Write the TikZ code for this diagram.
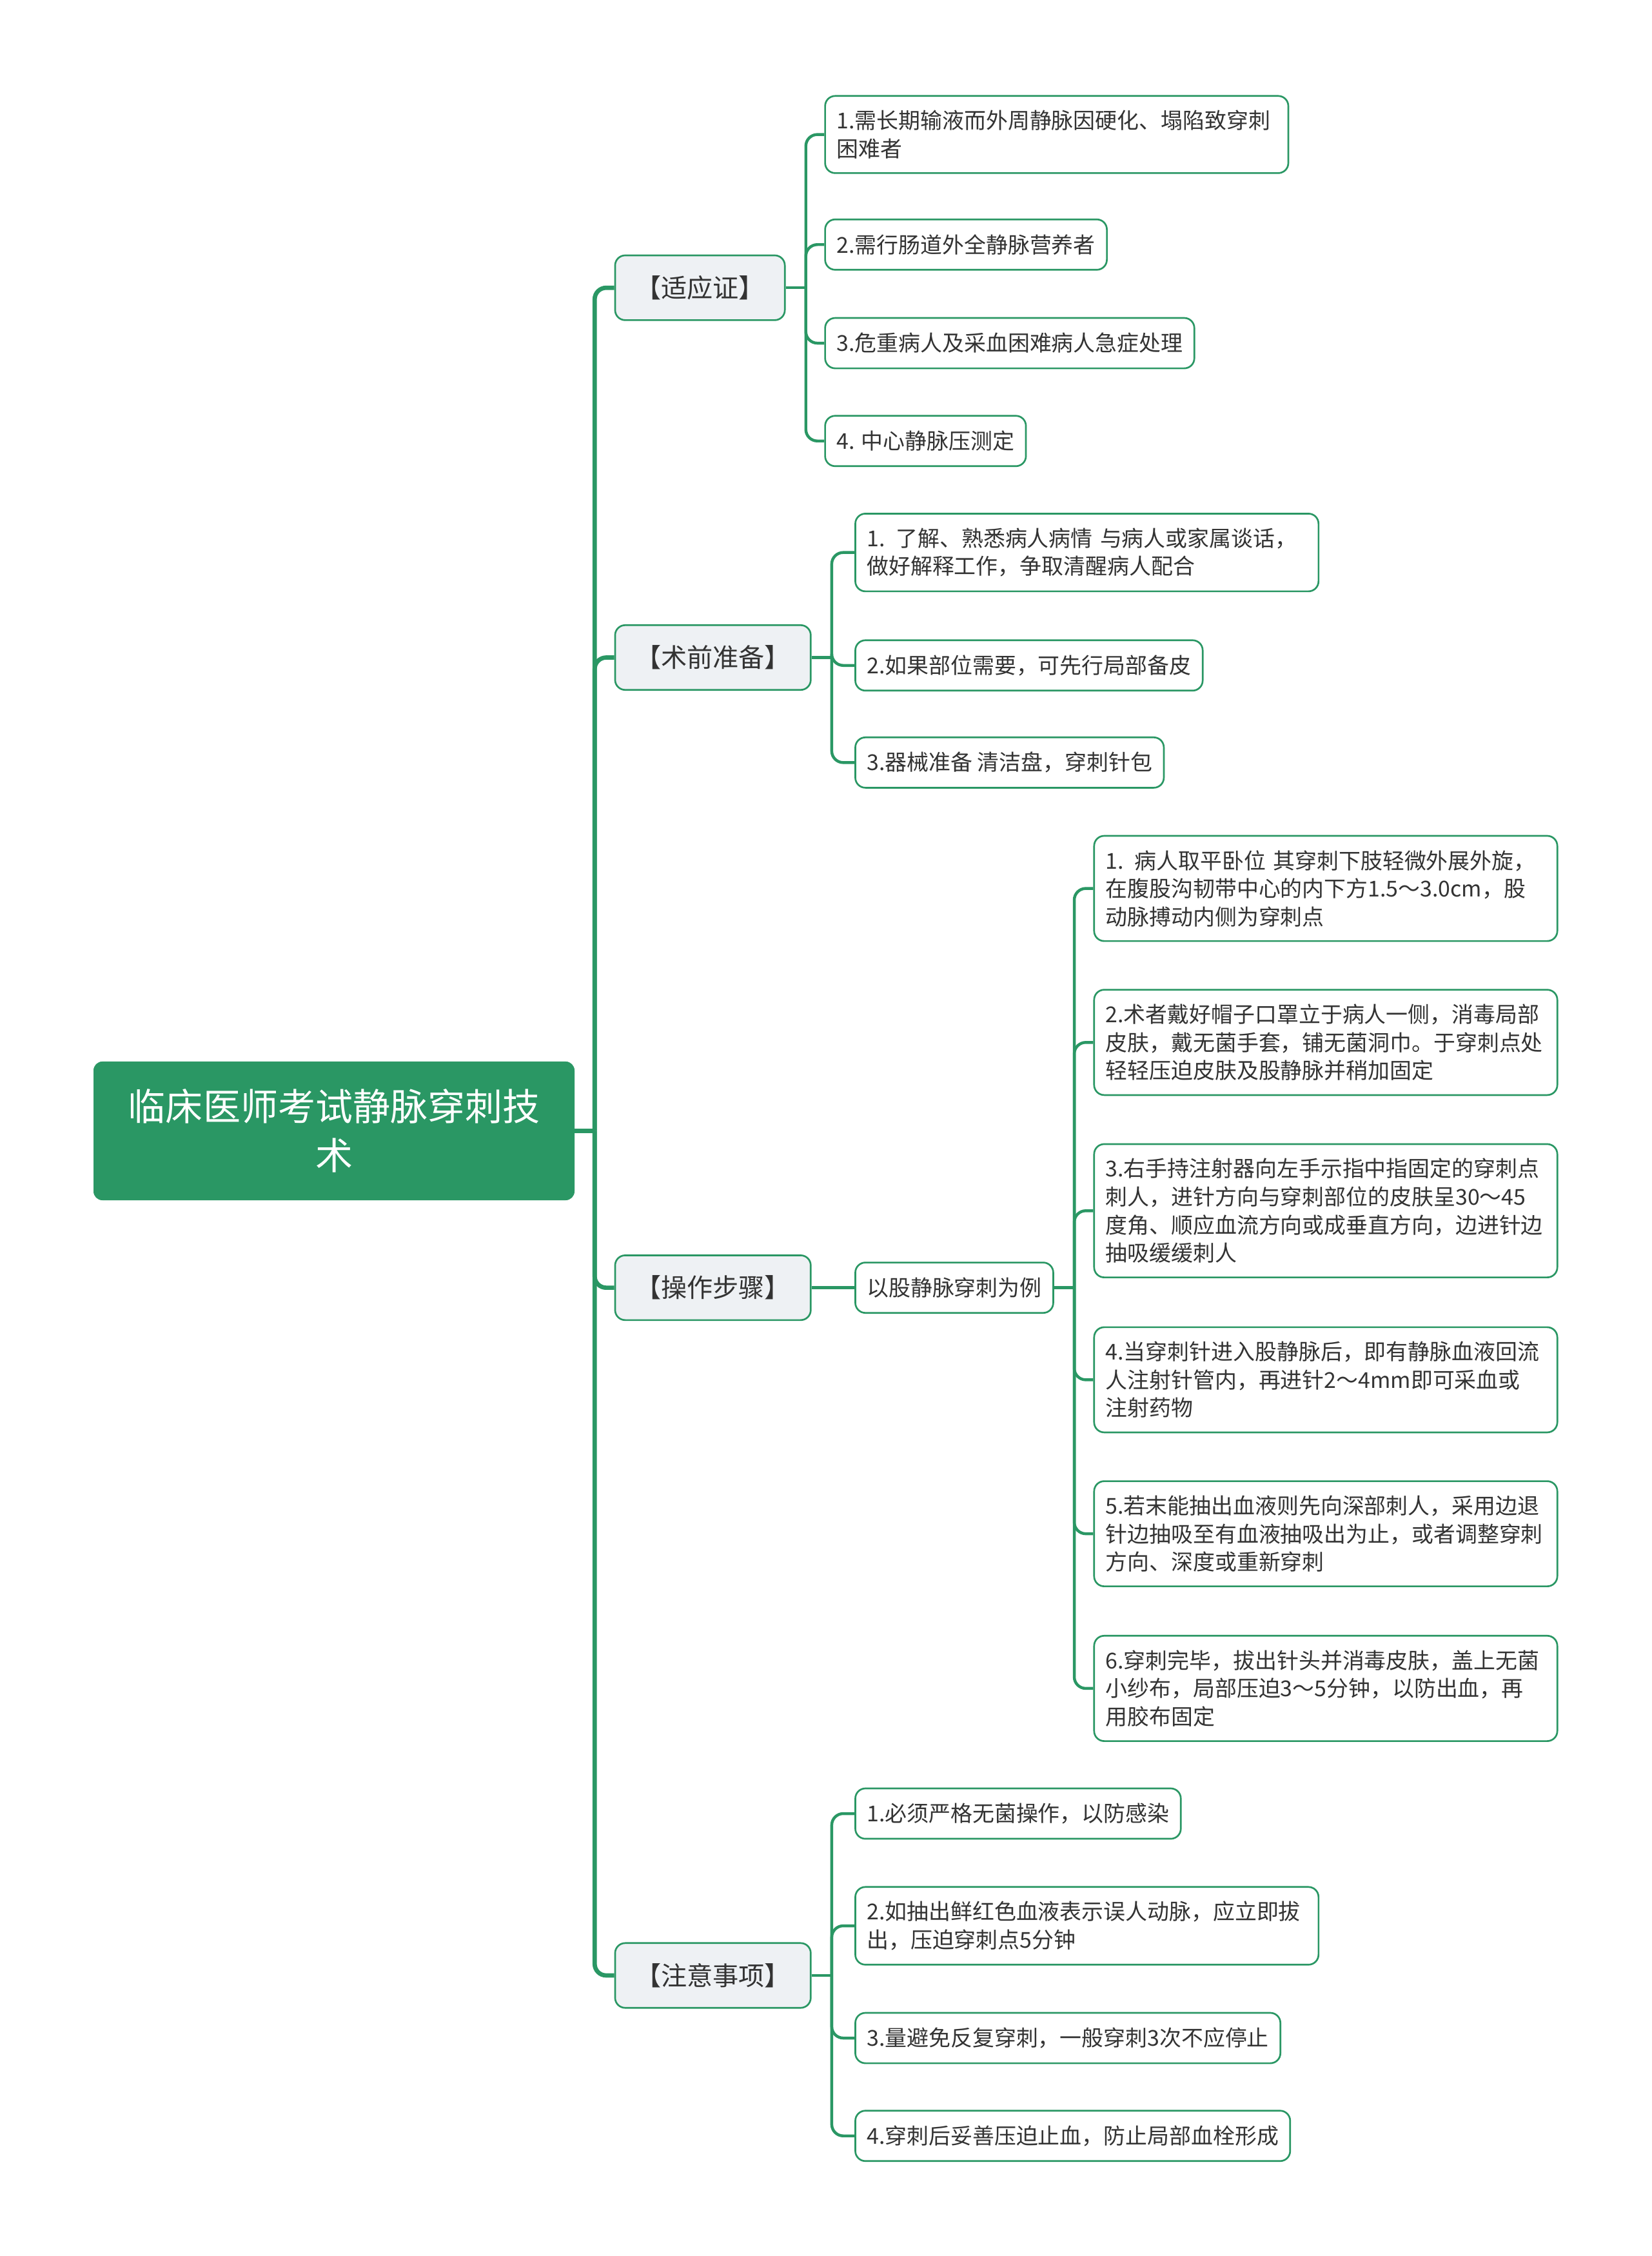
\documentclass[tikz,border=0pt]{standalone}
\usepackage{fontspec}
\setmainfont{Noto Sans CJK SC}
\usepackage{tikz}
\usetikzlibrary{calc,positioning}

\definecolor{mapgreen}{HTML}{2A9764}
\definecolor{topicgray}{HTML}{EEF1F4}
\definecolor{inkgray}{HTML}{333333}

\begin{document}
\begin{tikzpicture}[x=1pt,y=-1pt]

  % Parameters
  \def\gap{14}
  \def\leafw{306pt}

  % Styles
  \tikzstyle{root}=[draw=mapgreen,fill=mapgreen,text=white,rounded corners=6pt,anchor=west,align=center,minimum width=334pt,minimum height=96pt,font=\fontsize{26}{34}\selectfont]
  \tikzstyle{topic}=[draw=mapgreen,line width=1.2pt,fill=topicgray,text=inkgray,rounded corners=7pt,anchor=west,minimum height=45pt,inner xsep=14pt,font=\fontsize{18}{22}\selectfont]
  \tikzstyle{leaf}=[draw=mapgreen,line width=1.2pt,fill=white,text=inkgray,rounded corners=7pt,anchor=west,align=left,minimum height=35pt,inner xsep=8pt,inner ysep=10pt,font=\fontsize{15.2}{19.5}\selectfont]
  \tikzstyle{wide}=[text width=\leafw]
  \tikzstyle{trunk}=[draw=mapgreen,line width=3pt,rounded corners=8pt]
  \tikzstyle{twig}=[draw=mapgreen,line width=2pt,rounded corners=8pt]

  \useasboundingbox (0,0) rectangle (1148,1568);

  % ===========================================================================

  % Central topic
  \node[root] (root) at (65,786) {临床医师考试静脉穿刺技\\术};

  % Main topics
  \node[topic] (syz)  at (427,200)  {【适应证】};
  \node[topic] (sqzb) at (427,457)  {【术前准备】};
  \node[topic] (czbz) at (427,895)  {【操作步骤】};
  \node[topic] (zysx) at (427,1373) {【注意事项】};

  % Indications
  \node[leaf,wide] (s1) at (573,93.5)  {1.需长期输液而外周静脉因硬化、塌陷致穿刺\\困难者};
  \node[leaf]      (s2) at (573,170)   {2.需行肠道外全静脉营养者};
  \node[leaf]      (s3) at (573,238.5) {3.危重病人及采血困难病人急症处理};
  \node[leaf]      (s4) at (573,306.5) {4. 中心静脉压测定};

  % Preparation
  \node[leaf,wide] (q1) at (594,384)   {1. 了解、熟悉病人病情 与病人或家属谈话，\\做好解释工作，争取清醒病人配合};
  \node[leaf]      (q2) at (594,462.5) {2.如果部位需要，可先行局部备皮};
  \node[leaf]      (q3) at (594,530)   {3.器械准备 清洁盘，穿刺针包};

  % Steps
  \node[leaf] (eg) at (594,895) {以股静脉穿刺为例};
  \node[leaf,wide] (c1) at (760,617.5)  {1. 病人取平卧位 其穿刺下肢轻微外展外旋，\\在腹股沟韧带中心的内下方1.5～3.0cm，股\\动脉搏动内侧为穿刺点};
  \node[leaf,wide] (c2) at (760,724.5)  {2.术者戴好帽子口罩立于病人一侧，消毒局部\\皮肤，戴无菌手套，铺无菌洞巾。于穿刺点处\\轻轻压迫皮肤及股静脉并稍加固定};
  \node[leaf,wide] (c3) at (760,841.5)  {3.右手持注射器向左手示指中指固定的穿刺点\\刺人，进针方向与穿刺部位的皮肤呈30～45\\度角、顺应血流方向或成垂直方向，边进针边\\抽吸缓缓刺人};
  \node[leaf,wide] (c4) at (760,959)    {4.当穿刺针进入股静脉后，即有静脉血液回流\\人注射针管内，再进针2～4mm即可采血或\\注射药物};
  \node[leaf,wide] (c5) at (760,1066)   {5.若末能抽出血液则先向深部刺人，采用边退\\针边抽吸至有血液抽吸出为止，或者调整穿刺\\方向、深度或重新穿刺};
  \node[leaf,wide] (c6) at (760,1173.5) {6.穿刺完毕，拔出针头并消毒皮肤，盖上无菌\\小纱布，局部压迫3～5分钟，以防出血，再\\用胶布固定};

  % Cautions
  \node[leaf]      (z1) at (594,1260.5) {1.必须严格无菌操作，以防感染};
  \node[leaf,wide] (z2) at (594,1338.5) {2.如抽出鲜红色血液表示误人动脉，应立即拔\\出，压迫穿刺点5分钟};
  \node[leaf]      (z3) at (594,1416.5) {3.量避免反复穿刺，一般穿刺3次不应停止};
  \node[leaf]      (z4) at (594,1484.5) {4.穿刺后妥善压迫止血，防止局部血栓形成};

  % Draw trunk
  \coordinate (rj) at ($(root.east)+(\gap,0)$);
  \draw[trunk] (root.east) -- (rj);
  \foreach \t in {syz,sqzb,czbz,zysx}
    \draw[trunk] (rj) |- (\t.west);

  % Draw branches
  \draw[twig] (czbz.east) -- (eg.west);
  \foreach \p/\kids in {syz/{s1,s2,s3,s4},sqzb/{q1,q2,q3},eg/{c1,c2,c3,c4,c5,c6},zysx/{z1,z2,z3,z4}} {
    \coordinate (\p-j) at ($(\p.east)+(\gap,0)$);
    \draw[twig] (\p.east) -- (\p-j);
    \foreach \k in \kids
      \draw[twig] (\p-j) |- (\k.west);
  }

\end{tikzpicture}
\end{document}
